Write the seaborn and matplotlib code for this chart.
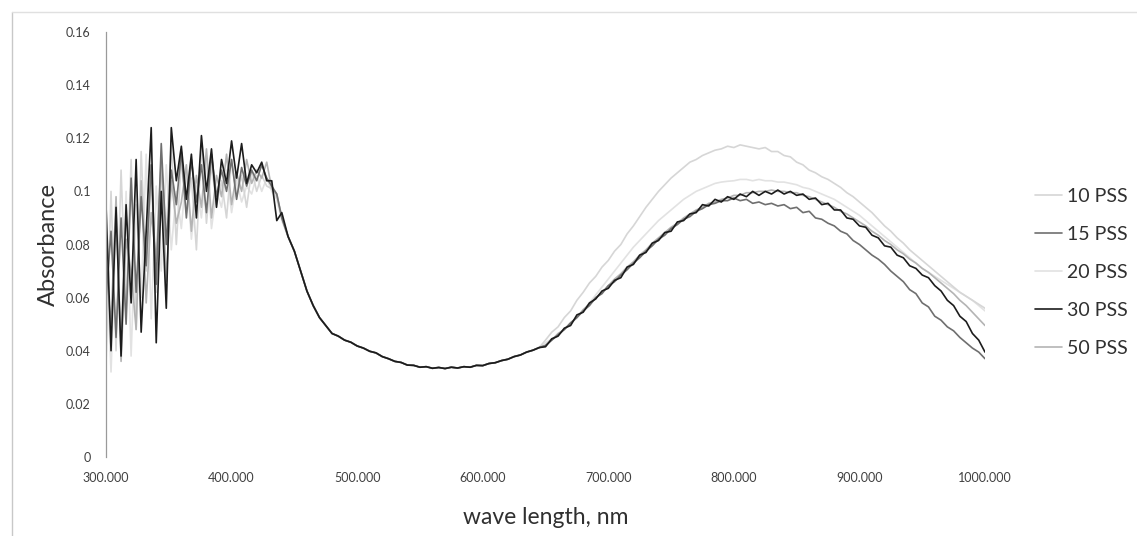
import numpy as np
import pandas as pd
import matplotlib
matplotlib.use('Agg')
import matplotlib.pyplot as plt
import seaborn as sns
from matplotlib.lines import Line2D

sns.set_style('white')
plt.rcParams['font.family'] = ['Lato', 'DejaVu Sans']

# wavelength grid: noisy UV part, shared trough part, per-series NIR part
wl_noise = np.arange(300, 441, 4)
wl_base = np.arange(445, 646, 5)
wl_peak = np.arange(650, 1001, 5)

# 300-440 nm (noisy)
noise_10 = [0.035, 0.100, 0.040, 0.108, 0.055, 0.112, 0.048, 0.115, 0.070, 0.105,
            0.062, 0.110, 0.085, 0.118, 0.080, 0.112, 0.092, 0.105, 0.078, 0.118,
            0.088, 0.110, 0.095, 0.104, 0.090, 0.112, 0.098, 0.106, 0.094, 0.108,
            0.100, 0.106, 0.102, 0.101, 0.098, 0.091]
noise_15 = [0.060, 0.085, 0.045, 0.090, 0.050, 0.105, 0.062, 0.098, 0.072, 0.110,
            0.065, 0.118, 0.080, 0.108, 0.095, 0.115, 0.090, 0.112, 0.096, 0.110,
            0.092, 0.114, 0.098, 0.108, 0.100, 0.112, 0.097, 0.109, 0.102, 0.108,
            0.104, 0.110, 0.105, 0.102, 0.099, 0.090]
noise_20 = [0.080, 0.032, 0.088, 0.045, 0.100, 0.038, 0.095, 0.060, 0.114, 0.052,
            0.102, 0.070, 0.110, 0.078, 0.100, 0.086, 0.108, 0.082, 0.102, 0.090,
            0.112, 0.086, 0.100, 0.094, 0.108, 0.092, 0.104, 0.096, 0.102, 0.099,
            0.106, 0.100, 0.105, 0.100, 0.097, 0.089]
noise_30 = [0.095, 0.040, 0.094, 0.038, 0.095, 0.058, 0.112, 0.047, 0.085, 0.124,
            0.043, 0.100, 0.056, 0.124, 0.104, 0.117, 0.097, 0.114, 0.090, 0.121,
            0.100, 0.116, 0.094, 0.112, 0.103, 0.119, 0.105, 0.118, 0.103, 0.110,
            0.107, 0.111, 0.104, 0.104, 0.089, 0.092]
noise_50 = [0.070, 0.050, 0.098, 0.036, 0.082, 0.070, 0.048, 0.104, 0.058, 0.092,
            0.074, 0.112, 0.066, 0.104, 0.088, 0.096, 0.110, 0.085, 0.106, 0.094,
            0.116, 0.090, 0.106, 0.098, 0.114, 0.095, 0.107, 0.100, 0.112, 0.103,
            0.108, 0.105, 0.111, 0.101, 0.099, 0.090]

# 445-645 nm, all samples overlap here
base = [0.0830, 0.0775, 0.0700, 0.0625, 0.0570, 0.0525, 0.0495, 0.0465, 0.0455, 0.0440,
        0.0432, 0.0418, 0.0410, 0.0398, 0.0392, 0.0378, 0.0370, 0.0360, 0.0356, 0.0346,
        0.0345, 0.0338, 0.0340, 0.0334, 0.0337, 0.0333, 0.0338, 0.0335, 0.0340, 0.0338,
        0.0345, 0.0344, 0.0352, 0.0355, 0.0363, 0.0368, 0.0378, 0.0384, 0.0395, 0.0402,
        0.0412]

# 650-1000 nm
peak_10 = [0.0440, 0.0470, 0.0490, 0.0525, 0.0550, 0.0590, 0.0620, 0.0655, 0.0680, 0.0715,
           0.0740, 0.0775, 0.0800, 0.0840, 0.0870, 0.0905, 0.0940, 0.0970, 0.1000, 0.1025,
           0.1050, 0.1070, 0.1090, 0.1110, 0.1120, 0.1135, 0.1145, 0.1155, 0.1160, 0.1170,
           0.1165, 0.1175, 0.1170, 0.1165, 0.1160, 0.1165, 0.1150, 0.1150, 0.1135, 0.1130,
           0.1110, 0.1100, 0.1080, 0.1070, 0.1055, 0.1045, 0.1030, 0.1015, 0.0995, 0.0980,
           0.0960, 0.0940, 0.0920, 0.0895, 0.0870, 0.0850, 0.0825, 0.0805, 0.0780, 0.0760,
           0.0740, 0.0720, 0.0700, 0.0680, 0.0660, 0.0640, 0.0620, 0.0605, 0.0590, 0.0575,
           0.0560]
peak_15 = [0.0420, 0.0440, 0.0460, 0.0480, 0.0505, 0.0525, 0.0550, 0.0570, 0.0600, 0.0615,
           0.0645, 0.0660, 0.0685, 0.0705, 0.0730, 0.0750, 0.0775, 0.0795, 0.0820, 0.0835,
           0.0860, 0.0875, 0.0895, 0.0905, 0.0925, 0.0935, 0.0950, 0.0955, 0.0965, 0.0965,
           0.0975, 0.0965, 0.0970, 0.0955, 0.0960, 0.0950, 0.0955, 0.0945, 0.0950, 0.0935,
           0.0940, 0.0920, 0.0925, 0.0900, 0.0895, 0.0880, 0.0870, 0.0850, 0.0840, 0.0815,
           0.0800, 0.0780, 0.0760, 0.0745, 0.0725, 0.0700, 0.0680, 0.0660, 0.0630, 0.0615,
           0.0580, 0.0565, 0.0530, 0.0515, 0.0490, 0.0475, 0.0450, 0.0430, 0.0410, 0.0395,
           0.0370]
peak_20 = [0.0430, 0.0445, 0.0460, 0.0480, 0.0500, 0.0525, 0.0550, 0.0580, 0.0610, 0.0640,
           0.0670, 0.0700, 0.0730, 0.0760, 0.0790, 0.0815, 0.0840, 0.0865, 0.0890, 0.0910,
           0.0930, 0.0950, 0.0970, 0.0985, 0.1000, 0.1010, 0.1020, 0.1030, 0.1035, 0.1038,
           0.1040, 0.1045, 0.1045, 0.1040, 0.1045, 0.1040, 0.1040, 0.1035, 0.1035, 0.1030,
           0.1025, 0.1015, 0.1010, 0.1000, 0.0990, 0.0980, 0.0970, 0.0955, 0.0940, 0.0925,
           0.0910, 0.0890, 0.0870, 0.0850, 0.0830, 0.0810, 0.0790, 0.0770, 0.0750, 0.0730,
           0.0710, 0.0695, 0.0680, 0.0665, 0.0650, 0.0635, 0.0620, 0.0605, 0.0590, 0.0570,
           0.0550]
peak_30 = [0.0415, 0.0445, 0.0455, 0.0485, 0.0495, 0.0535, 0.0545, 0.0580, 0.0595, 0.0625,
           0.0635, 0.0665, 0.0675, 0.0715, 0.0725, 0.0760, 0.0770, 0.0805, 0.0815, 0.0845,
           0.0850, 0.0885, 0.0890, 0.0915, 0.0920, 0.0950, 0.0945, 0.0970, 0.0960, 0.0980,
           0.0970, 0.0990, 0.0980, 0.1000, 0.0985, 0.1000, 0.0990, 0.1005, 0.0990, 0.1000,
           0.0985, 0.0990, 0.0970, 0.0975, 0.0950, 0.0955, 0.0930, 0.0930, 0.0900, 0.0895,
           0.0870, 0.0865, 0.0835, 0.0825, 0.0795, 0.0790, 0.0760, 0.0750, 0.0720, 0.0710,
           0.0685, 0.0675, 0.0645, 0.0625, 0.0590, 0.0570, 0.0530, 0.0510, 0.0465, 0.0440,
           0.0395]
peak_50 = [0.0420, 0.0440, 0.0465, 0.0480, 0.0505, 0.0525, 0.0555, 0.0575, 0.0600, 0.0620,
           0.0645, 0.0670, 0.0690, 0.0715, 0.0735, 0.0760, 0.0780, 0.0805, 0.0825, 0.0845,
           0.0865, 0.0880, 0.0900, 0.0915, 0.0930, 0.0940, 0.0955, 0.0960, 0.0970, 0.0975,
           0.0985, 0.0985, 0.0995, 0.0995, 0.1000, 0.1000, 0.1005, 0.1000, 0.1000, 0.0995,
           0.0995, 0.0985, 0.0980, 0.0970, 0.0960, 0.0950, 0.0940, 0.0925, 0.0915, 0.0900,
           0.0885, 0.0870, 0.0850, 0.0835, 0.0815, 0.0800, 0.0780, 0.0765, 0.0745, 0.0730,
           0.0710, 0.0695, 0.0675, 0.0655, 0.0635, 0.0615, 0.0590, 0.0570, 0.0545, 0.0520,
           0.0495]

labels = ['10 PSS', '15 PSS', '20 PSS', '30 PSS', '50 PSS']
noise = [noise_10, noise_15, noise_20, noise_30, noise_50]
peaks = [peak_10, peak_15, peak_20, peak_30, peak_50]
colors = {'10 PSS': '#d6d6d6', '15 PSS': '#6f6f6f', '20 PSS': '#e2e2e2',
          '30 PSS': '#1c1c1c', '50 PSS': '#b4b4b4'}
draw_order = ['20 PSS', '10 PSS', '50 PSS', '15 PSS', '30 PSS']

wl = np.concatenate([wl_noise, wl_base, wl_peak])
frames = []
for lab, n, p in zip(labels, noise, peaks):
    frames.append(pd.DataFrame({'wl': wl, 'abs': np.concatenate([n, base, p]), 'sample': lab}))
df = pd.concat(frames, ignore_index=True)

fig = plt.figure(figsize=(11.37, 5.36), dpi=100)
ax = fig.add_axes([106 / 1137, 1 - 457 / 536, 879 / 1137, 425 / 536])

for lab in draw_order:
    sns.lineplot(data=df[df['sample'] == lab], x='wl', y='abs', color=colors[lab],
                 lw=1.2, sort=False, estimator=None, ax=ax, legend=False)

ax.set_xlim(300, 1000)
ax.set_ylim(0, 0.16)
ax.set_yticks(np.arange(0, 0.161, 0.02))
ax.set_yticklabels(['0', '0.02', '0.04', '0.06', '0.08', '0.1', '0.12', '0.14', '0.16'])
ax.set_xticks(np.arange(300, 1001, 100))
ax.set_xticklabels([f'{v}.000' for v in range(300, 1001, 100)])
ax.tick_params(axis='y', labelsize=9, colors='#404040', length=0, pad=11)
ax.tick_params(axis='x', labelsize=9, colors='#404040', length=0, pad=11)
for s in ['top', 'right', 'bottom']:
    ax.spines[s].set_visible(False)
ax.spines['left'].set_color('#9a9a9a')
ax.spines['left'].set_linewidth(0.9)

ax.set_ylabel('Absorbance', fontsize=17, color='#303030', va='center')
ax.yaxis.set_label_coords(-0.066, 0.5)
ax.set_xlabel('wave length, nm', fontsize=16.5, color='#303030', va='center')
ax.xaxis.set_label_coords(0.5, -0.143)

handles = [Line2D([], [], color=colors[l], lw=1.2) for l in labels]
fig.legend(handles, labels, loc='upper left', bbox_to_anchor=(1035 / 1137, 1 - 188 / 536),
           frameon=False, fontsize=14, labelspacing=1.08, handlelength=1.4,
           handletextpad=0.25, borderpad=0, borderaxespad=0, labelcolor='#303030')

# faint outer chart frame
fig.add_artist(Line2D([12 / 1137, 12 / 1137], [0, 1 - 12 / 536], color='#c8c8c8', lw=1))
fig.add_artist(Line2D([12 / 1137, 1], [1 - 12 / 536, 1 - 12 / 536], color='#e0e0e0', lw=1))

fig.savefig('out.png', dpi=100)
